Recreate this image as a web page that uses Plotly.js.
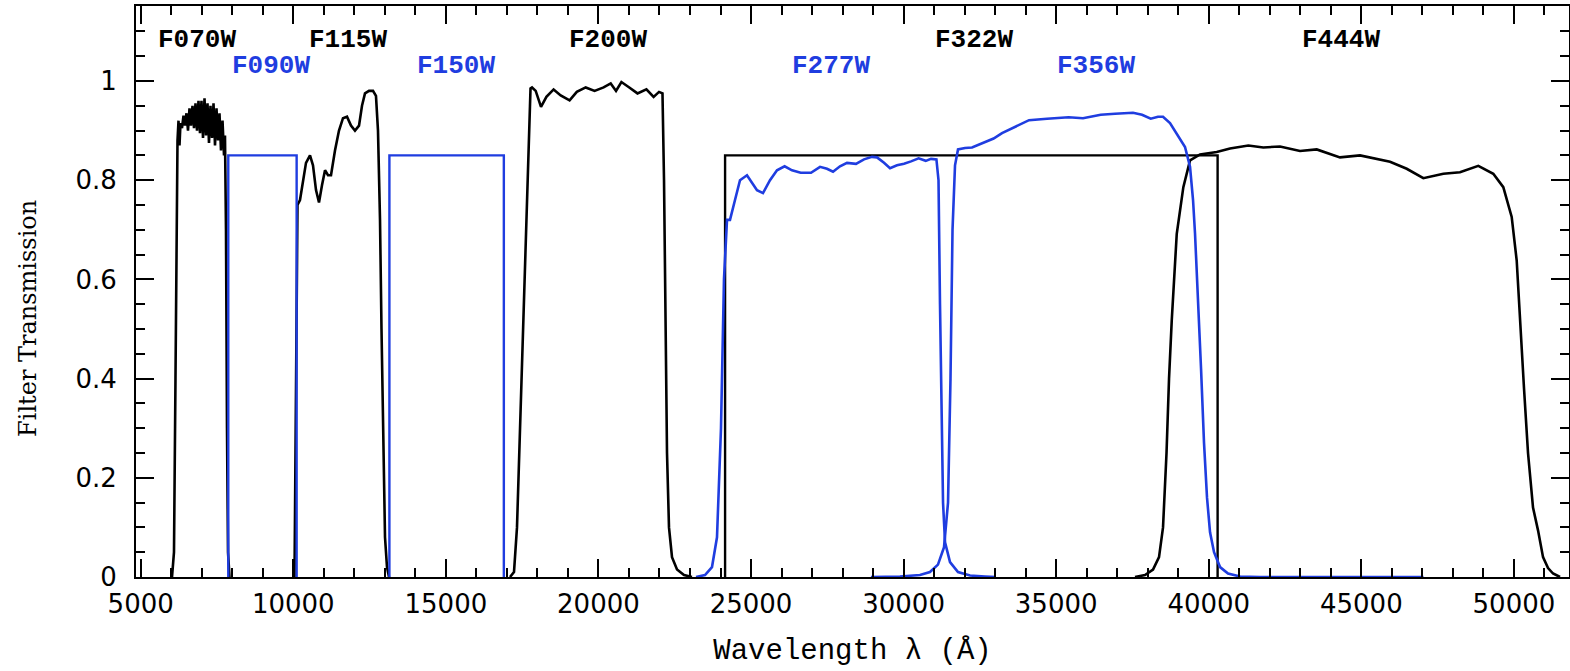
<!DOCTYPE html>
<html>
<head>
<meta charset="utf-8">
<script src="https://cdn.plot.ly/plotly-3.0.1.min.js"></script>
<style>
html,body{margin:0;padding:0;background:#fff;}
#chart{width:1570px;height:671px;}
</style>
</head>
<body>
<div id="chart"></div>
<script>
// ---- Data (wavelength in Angstrom, transmission) ----
const f070w_x = [6026,6091,6140,6173,6206,6239,6271,6304,6353,6403,6452,6501,6550,6599,6648,6697,6747,6796,6845,6894,6943,6992,7042,7091,7140,7189,7238,7287,7337,7386,7435,7484,7533,7582,7631,7681,7730,7762,7795,7828,7861,7910];
const f070w_y = [0,0.05,0.4,0.75,0.88,0.92,0.87,0.915,0.905,0.93,0.91,0.935,0.90,0.945,0.91,0.95,0.905,0.955,0.90,0.96,0.895,0.96,0.885,0.965,0.89,0.955,0.875,0.95,0.885,0.955,0.87,0.945,0.88,0.935,0.86,0.92,0.85,0.89,0.7,0.3,0.05,0];

const f090w_x = [7870,7870,10110,10110];
const f090w_y = [0,0.85,0.85,0];

const f115w_x = [10040,10073,10106,10138,10220,10319,10417,10548,10646,10745,10843,10941,11040,11138,11236,11367,11498,11629,11760,11891,12022,12154,12252,12350,12481,12612,12710,12776,12842,12891,12940,13006,13071,13137];
const f115w_y = [0,0.3,0.65,0.75,0.76,0.8,0.835,0.85,0.83,0.78,0.755,0.79,0.82,0.81,0.81,0.86,0.90,0.925,0.928,0.91,0.90,0.91,0.95,0.975,0.98,0.98,0.97,0.9,0.72,0.5,0.28,0.08,0.02,0];

const f150w_x = [13150,13150,16900,16900];
const f150w_y = [0,0.85,0.85,0];

const f200w_x = [17102,17233,17331,17430,17528,17626,17708,17774,17823,17944,18118,18295,18531,18763,19055,19291,19583,19874,20169,20402,20576,20753,20988,21280,21572,21808,21985,22099,22149,22198,22247,22312,22411,22575,22804,23066];
const f200w_y = [0,0.01,0.1,0.3,0.5,0.7,0.9,0.985,0.987,0.98,0.948,0.968,0.983,0.971,0.961,0.978,0.987,0.98,0.987,0.995,0.98,0.998,0.988,0.975,0.983,0.968,0.978,0.975,0.8,0.5,0.25,0.1,0.04,0.015,0.004,0];

const f277w_x = [23197,23492,23721,23885,24016,24114,24213,24311,24475,24639,24868,25032,25196,25393,25622,25851,26101,26343,26628,26966,27261,27490,27687,27916,28145,28440,28703,28965,29129,29358,29555,29784,30014,30243,30492,30725,30899,31076,31144,31193,31243,31292,31358,31521,31783,32177,32668,33028];
const f277w_y = [0,0.004,0.02,0.08,0.3,0.6,0.72,0.72,0.76,0.8,0.81,0.795,0.78,0.774,0.80,0.82,0.828,0.82,0.815,0.815,0.827,0.823,0.817,0.828,0.835,0.833,0.842,0.847,0.846,0.835,0.824,0.83,0.833,0.838,0.844,0.839,0.843,0.842,0.8,0.55,0.3,0.15,0.07,0.03,0.01,0.003,0.001,0];

const f322w_x = [24150,24150,40290,40290];
const f322w_y = [0,0.85,0.85,0];

const f356w_x = [28930,29881,30536,30864,31126,31325,31456,31537,31603,31685,31783,32012,32242,32602,32949,33225,33520,33815,34110,34700,35407,35879,36459,36928,37518,37813,38098,38337,38501,38730,38949,39222,39386,39485,39550,39658,39747,39845,39943,40042,40173,40370,40632,41025,41681,47036];
const f356w_y = [0,0.001,0.004,0.01,0.025,0.06,0.15,0.4,0.7,0.83,0.862,0.865,0.866,0.875,0.884,0.895,0.904,0.913,0.921,0.924,0.927,0.925,0.932,0.934,0.936,0.932,0.924,0.928,0.928,0.915,0.894,0.867,0.827,0.76,0.692,0.558,0.42,0.27,0.16,0.09,0.05,0.02,0.007,0.001,0,0];

const f444w_x = [37583,37911,38173,38370,38501,38616,38698,38787,38951,39167,39386,39714,40261,40697,41297,41788,42335,42990,43538,44301,44957,45940,46487,47031,47687,48233,48833,49324,49652,49927,50091,50199,50331,50462,50626,50790,50954,51118,51282,51511];
const f444w_y = [0,0.004,0.015,0.04,0.1,0.25,0.4,0.517,0.692,0.786,0.84,0.852,0.857,0.864,0.870,0.866,0.868,0.859,0.862,0.846,0.85,0.837,0.823,0.804,0.813,0.816,0.829,0.813,0.786,0.726,0.638,0.517,0.38,0.25,0.14,0.094,0.04,0.018,0.007,0];

// filter labels
const black_labels = ['F070W','F115W','F200W','F322W','F444W'];
const black_label_x = [6829,11793,20313,32307,44334];
const blue_labels = ['F090W','F150W','F277W','F356W'];
const blue_label_x = [9283,15332,27611,36305];
const black_label_y = 1.082;
const blue_label_y = 1.031;

const xTitle = 'Wavelength λ (Å)';
const yTitle = 'Filter Transmission';

// ---- Styling ----
const BLUE = '#1f3de0';
const BLACK = '#000000';

function tr(x, y, color, w) {
  return {x: x, y: y, type: 'scatter', mode: 'lines', line: {color: color, width: w}, hoverinfo: 'skip', showlegend: false};
}

const traces = [
  tr(f070w_x, f070w_y, BLACK, 2.6),
  tr(f115w_x, f115w_y, BLACK, 2.6),
  tr(f200w_x, f200w_y, BLACK, 2.6),
  tr(f322w_x, f322w_y, BLACK, 2.4),
  tr(f444w_x, f444w_y, BLACK, 2.6),
  tr(f090w_x, f090w_y, BLUE, 2.4),
  tr(f150w_x, f150w_y, BLUE, 2.4),
  tr(f277w_x, f277w_y, BLUE, 2.6),
  tr(f356w_x, f356w_y, BLUE, 2.6)
];

const labelFont = {family: 'Liberation Mono, monospace', size: 26, color: BLACK, weight: 'bold'};
const annotations = [];
black_labels.forEach((t, i) => annotations.push({
  x: black_label_x[i], y: black_label_y, xref: 'x', yref: 'y', text: '<b>' + t + '</b>', showarrow: false,
  font: Object.assign({}, labelFont, {color: BLACK}), xanchor: 'center', yanchor: 'middle'
}));
blue_labels.forEach((t, i) => annotations.push({
  x: blue_label_x[i], y: blue_label_y, xref: 'x', yref: 'y', text: '<b>' + t + '</b>', showarrow: false,
  font: Object.assign({}, labelFont, {color: BLUE}), xanchor: 'center', yanchor: 'middle'
}));
annotations.push({
  x: -0.0754, y: 0.4536, xref: 'paper', yref: 'paper', text: yTitle, showarrow: false, textangle: -90,
  font: {family: 'DejaVu Serif, serif', size: 24, color: BLACK}, xanchor: 'center', yanchor: 'middle'
});

const tickFont = {family: 'DejaVu Sans, sans-serif', size: 26, color: BLACK};

const layout = {
  width: 1570, height: 671,
  margin: {l: 136, r: 1, t: 6, b: 94, pad: 0},
  paper_bgcolor: '#ffffff', plot_bgcolor: '#ffffff',
  showlegend: false,
  xaxis: {
    range: [4846, 51805], autorange: false,
    showline: true, linecolor: BLACK, linewidth: 2, mirror: 'ticks',
    ticks: 'inside', ticklen: 18, tickwidth: 2, tickcolor: BLACK,
    tick0: 5000, dtick: 5000, tickformat: 'd',
    minor: {ticks: 'inside', dtick: 1000, tick0: 5000, ticklen: 9, tickwidth: 2, tickcolor: BLACK, showgrid: false},
    showgrid: false, zeroline: false,
    tickfont: tickFont, ticklabelstandoff: 3,
    title: {text: xTitle, font: {family: 'Liberation Mono, monospace', size: 29, color: BLACK}, standoff: 20}
  },
  yaxis: {
    range: [0, 1.1512], autorange: false,
    showline: true, linecolor: BLACK, linewidth: 2, mirror: 'ticks',
    ticks: 'inside', ticklen: 18, tickwidth: 2, tickcolor: BLACK,
    tick0: 0, dtick: 0.2,
    minor: {ticks: 'inside', dtick: 0.05, tick0: 0, ticklen: 9, tickwidth: 2, tickcolor: BLACK, showgrid: false},
    showgrid: false, zeroline: false,
    tickfont: tickFont, ticklabelstandoff: 12
  },
  annotations: annotations
};

Plotly.newPlot('chart', traces, layout, {staticPlot: true, displayModeBar: false});
</script>
</body>
</html>
